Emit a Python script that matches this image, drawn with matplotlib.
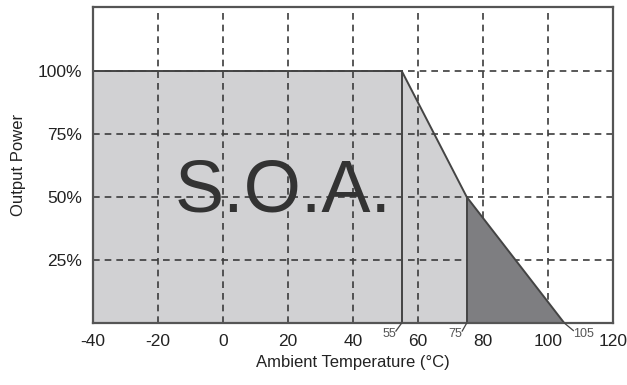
import matplotlib
matplotlib.use("Agg")
import matplotlib.pyplot as plt

# Data
curve_temp = [-40, 55, 75, 105]
curve_power = [100, 100, 50, 0]
x_ticks = [-40, -20, 0, 20, 40, 60, 80, 100, 120]
y_ticks = [25, 50, 75, 100]
y_tick_labels = ["25%", "50%", "75%", "100%"]
marker_temps = [55, 75, 105]
marker_labels = ["55", "75", "105"]

plt.rcParams['font.family'] = ['Liberation Sans', 'DejaVu Sans']

fig = plt.figure(figsize=(6.27, 3.85), dpi=100)
ax = fig.add_axes([93/627, 1 - 323/385, (613-93)/627, (323-7)/385])
ax.set_xlim(-40, 120)
ax.set_ylim(0, 125.4)

light = '#d1d1d3'
dark = '#7e7e81'
linec = '#444444'

# light fill (below grid)
ax.fill_between(curve_temp, curve_power, 0, color=light, zorder=1, linewidth=0)

# grid
for xv in x_ticks[1:-1]:
    ax.axvline(xv, color='#3c3c3c', lw=1.2, ls=(0, (4, 3)), zorder=2)
for yv in y_ticks:
    ax.axhline(yv, color='#3c3c3c', lw=1.2, ls=(0, (4, 3)), zorder=2)

# dark fill (above grid)
ax.fill_between(curve_temp[2:], curve_power[2:], 0, color=dark, zorder=3, linewidth=0)

# curve and verticals
ax.plot(curve_temp, curve_power, color=linec, lw=1.4, zorder=4)
ax.plot([55, 55], [0, 100], color=linec, lw=1.4, zorder=4)
ax.plot([75, 75], [0, 50], color=linec, lw=1.4, zorder=4)

for s in ax.spines.values():
    s.set_color('#555555')
    s.set_linewidth(1.6)
    s.set_zorder(5)

ax.set_xticks(x_ticks)
ax.set_xticklabels([str(v) for v in x_ticks])
ax.set_yticks(y_ticks)
ax.set_yticklabels(y_tick_labels)
ax.tick_params(length=0, labelsize=12.5, labelcolor='#222222', pad=8)

# small marker labels with leader lines (offsets in data units)
leader_end = {55: (-1.8, -3.2), 75: (-1.4, -3.2), 105: (2.8, -3.0)}
text_pos = {55: (-1.7, -4.4), 75: (-1.4, -4.4), 105: (2.6, -4.2)}
for t, lab in zip(marker_temps, marker_labels):
    lx, ly = leader_end[t]
    tx, ty = text_pos[t]
    ax.plot([t, t + lx], [0, ly], color='#444444', lw=0.9, clip_on=False, zorder=6)
    ax.text(t + tx, ty, lab, ha='right' if lx < 0 else 'left', va='center',
            fontsize=9, color='#555555', clip_on=False)

ax.text(18.5, 52, "S.O.A.", fontsize=53, color='#333333', ha='center',
        va='center', zorder=6)

ax.set_xlabel("Ambient Temperature (°C)", fontsize=12, color='#222222', labelpad=4)
ax.set_ylabel("Output Power", fontsize=12, color='#222222', labelpad=8)

fig.savefig("out.png", dpi=100)
